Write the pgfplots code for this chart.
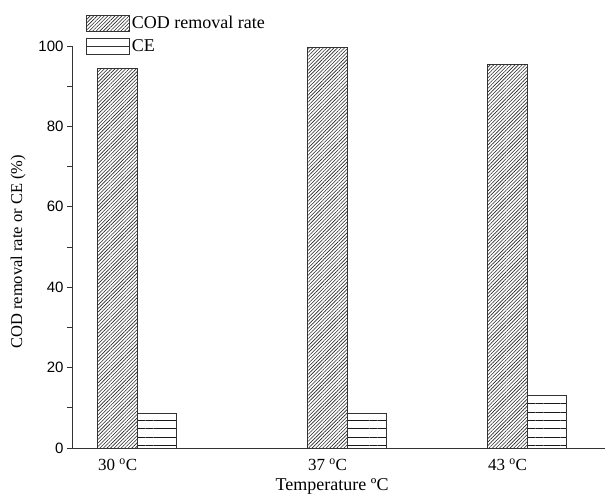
\documentclass[border=0pt]{standalone}
\usepackage{fontspec}
\setmainfont{Liberation Serif}
\newfontfamily\arial{Liberation Sans}
\usepackage{pgfplots}
\pgfplotsset{compat=1.18}
\usetikzlibrary{patterns.meta}

\definecolor{edge}{gray}{0.2}

\begin{document}
\begin{tikzpicture}
% page = 607 x 495, axis corner at (72,448) px
\useasboundingbox (-72pt,-47pt) rectangle (535pt,448pt);
\begin{axis}[
    scale only axis, width=533pt, height=402pt,
    xmin=28.48, xmax=46.25, ymin=0, ymax=100,
    axis lines=left,
    axis line style={-, draw=edge, line width=0.9pt},
    xtick={30,37,43},
    xticklabels={30 \textsuperscript{o}C, 37 \textsuperscript{o}C, 43 \textsuperscript{o}C},
    major x tick style={draw=none},
    ytick={0,20,...,100}, minor ytick={10,30,50,70,90},
    tick align=outside, major tick length=5pt, minor tick length=5pt,
    y tick style={draw=edge, line width=0.9pt},
    /pgf/number format/assume math mode=true,
    yticklabel style={font=\arial\fontsize{15}{15}\selectfont},
    xticklabel style={font=\fontsize{17}{17}\selectfont, yshift=-2pt},
    xlabel={Temperature ºC},
    xlabel style={font=\fontsize{18}{18}\selectfont, at={(axis description cs:0.488,-0.106)}, anchor=base},
    ylabel={COD removal rate or CE (\%)},
    ylabel style={font=\fontsize{16.5}{16.5}\selectfont, at={(axis description cs:-0.101,0.488)}, anchor=center},
    ybar, bar width=39.5pt,
    legend style={draw=none, fill=none, at={(axis description cs:0.026,1.08)}, anchor=north west,
        font=\fontsize{18}{18}\selectfont, inner sep=0pt, nodes={inner sep=2pt}, row sep=6pt},
    legend cell align=left,
]
\addplot[draw=edge, line width=0.8pt, bar shift=0pt,
    pattern={Lines[angle=45,distance=2.5pt,line width=0.6pt]}, pattern color=black!85,
    legend image code/.code={\draw[draw=edge, line width=0.8pt,
        pattern={Lines[angle=45,distance=2.5pt,line width=0.6pt]}, pattern color=black!85]
        (0pt,-8pt) rectangle (43pt,8pt);}]
    coordinates {(30,94.4) (37,99.6) (43,95.5)};
\addplot[draw=edge, line width=0.8pt, bar shift=39.5pt,
    pattern={Lines[angle=0,distance=8.3pt,line width=0.8pt]}, pattern color=black!90,
    legend image code/.code={\draw[draw=edge, line width=0.8pt] (0pt,-8pt) rectangle (43pt,8pt);
        \draw[edge, line width=0.8pt] (0pt,0pt) -- (43pt,0pt);}]
    coordinates {(30,8.6) (37,8.5) (43,13.2)};
\legend{COD removal rate, CE}
\end{axis}
\end{tikzpicture}
\end{document}
